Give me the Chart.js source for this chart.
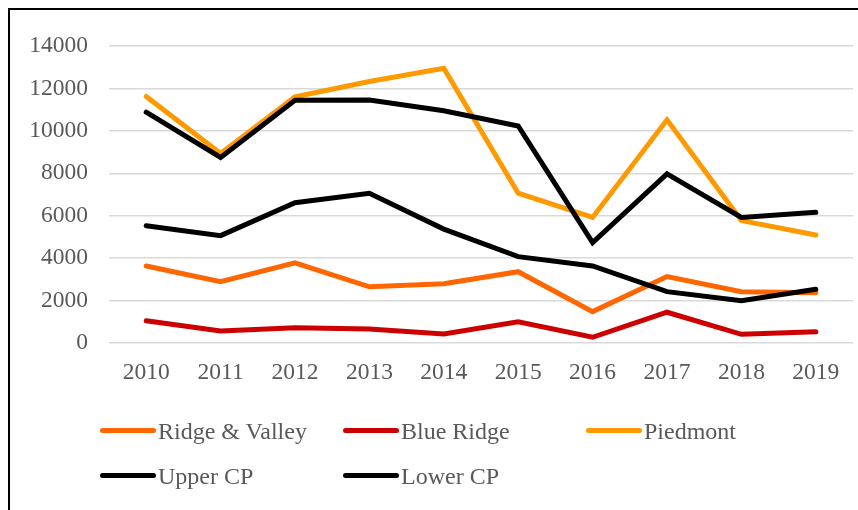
<!DOCTYPE html>
<html>
<head>
  <title>Regions 2010-2019</title>
  <script src="https://cdn.jsdelivr.net/npm/chart.js"></script>
  <style>
    body { margin: 0; background: #fff; font-family: "Liberation Serif", "Times New Roman", serif; }
    .wrap { position: relative; width: 858px; height: 510px; overflow: hidden; }
    .frame { position: absolute; left: 8px; top: 8px; width: 900px; height: 600px; border-left: 2px solid #000; border-top: 2px solid #000; }
    canvas { position: absolute; left: 0; top: 0; }
    .leg { position: absolute; }
    .leg .swatch { position: absolute; left: 0; width: 56px; height: 5px; border-radius: 3px; }
    .leg .txt { position: absolute; left: 58px; font-size: 24px; line-height: 24px; color: #595959; white-space: nowrap; }
  </style>
</head>
<body>

<div class="wrap">
  <div class="frame"></div>
  <canvas id="chart" width="858" height="510"></canvas>
  <div id="legend"></div>
</div>

<script>
const years = ['2010', '2011', '2012', '2013', '2014', '2015', '2016', '2017', '2018', '2019'];
const ridgeValley = [3630, 2890, 3780, 2650, 2790, 3360, 1480, 3130, 2420, 2370];
const blueRidge   = [1050, 570, 720, 660, 430, 1000, 270, 1450, 410, 530];
const piedmont    = [11620, 8930, 11600, 12330, 12950, 7060, 5920, 10520, 5770, 5090];
const upperCP     = [10880, 8750, 11440, 11450, 10950, 10230, 4730, 7970, 5920, 6160];
const lowerCP     = [5530, 5060, 6610, 7060, 5370, 4070, 3630, 2420, 1990, 2530];
const yTicks = [0, 2000, 4000, 6000, 8000, 10000, 12000, 14000];

const series = [
  { label: 'Ridge & Valley', data: ridgeValley, color: '#ff6600' },
  { label: 'Blue Ridge', data: blueRidge, color: '#cc0000' },
  { label: 'Piedmont', data: piedmont, color: '#ff9900' },
  { label: 'Upper CP', data: upperCP, color: '#000000' },
  { label: 'Lower CP', data: lowerCP, color: '#000000' }
];

const tickFont = { family: 'Liberation Serif', size: 23.5 };

new Chart(document.getElementById('chart').getContext('2d'), {
  type: 'line',
  data: {
    labels: years,
    datasets: series.map((s, i) => ({
      label: s.label,
      data: s.data,
      borderColor: s.color,
      backgroundColor: s.color,
      borderWidth: 5,
      borderCapStyle: 'round',
      pointRadius: 0,
      fill: false,
      tension: 0,
      order: series.length - i // later series drawn on top, like Excel
    }))
  },
  options: {
    responsive: false,
    animation: false,
    layout: { padding: { left: 0, right: 5, top: 46, bottom: 0 } },
    plugins: {
      legend: { display: false },
      tooltip: { enabled: false }
    },
    scales: {
      x: {
        offset: true,
        grid: { display: false },
        border: { display: false },
        ticks: { color: '#595959', font: tickFont, padding: 8, maxRotation: 0 },
        afterFit: (scale) => { scale.height = 167; }
      },
      y: {
        min: 0,
        max: 14000,
        afterBuildTicks: (scale) => { scale.ticks = yTicks.map(v => ({ value: v })); },
        grid: { color: '#d9d9d9', lineWidth: 1.5, drawTicks: false },
        border: { display: false },
        ticks: { color: '#595959', font: tickFont, padding: 21, callback: (v) => String(v) },
        afterFit: (scale) => { scale.width = 109; }
      }
    }
  }
});

// legend in a fixed grid, 3 columns like the original
const legend = document.getElementById('legend');
series.forEach((s, i) => {
  const col = i % 3, row = Math.floor(i / 3);
  const item = document.createElement('div');
  item.className = 'leg';
  item.style.left = (100 + col * 243) + 'px';
  item.style.top = (428 + row * 45) + 'px';
  item.innerHTML = '<div class="swatch" style="background:' + s.color + '"></div>' +
                   '<div class="txt" style="top:-9px">' + s.label + '</div>';
  legend.appendChild(item);
});
</script>

</body>
</html>
